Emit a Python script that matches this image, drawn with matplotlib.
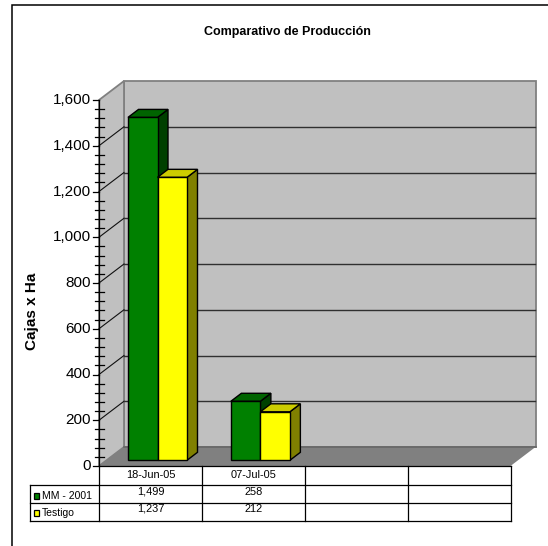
import matplotlib
matplotlib.use("Agg")
import matplotlib.pyplot as plt
from matplotlib.patches import Polygon, Rectangle
from matplotlib.lines import Line2D

plt.rcParams['font.family'] = ['Liberation Sans', 'DejaVu Sans']

title = "Comparativo de Producción"
ylabel = "Cajas x Ha"
categories = ["18-Jun-05", "07-Jul-05", "", ""]
series_names = ["MM - 2001", "Testigo"]
mm_2001 = [1499, 258]
testigo = [1237, 212]
mm_labels = ["1,499", "258", "", ""]
testigo_labels = ["1,237", "212", "", ""]
yticks = list(range(0, 1601, 200))
yminor = [v for v in range(0, 1601, 40) if v % 200]

W, H = 548, 546
fig = plt.figure(figsize=(W/100, H/100), dpi=100, facecolor='white')

L, R, T, B = 99.0, 510.5, 100.0, 466.0
ax = fig.add_axes([L/W, 1-B/H, (R-L)/W, (B-T)/H])
ax.set_xlim(0, 4)
ax.set_ylim(0, 1600)
ax.axis('off')
px = 4/(R-L)
py = 1600/(B-T)
DX, DY = 25*px, 19*py     # chart depth
bdx, bdy = 10.5*px, 8*py  # bar depth
y0 = 5.7*py               # bar inset from front of floor
ins = 29*px
bw = 29.5*px

def poly(pts, fc, ec='none', lw=0.8, z=1):
    ax.add_patch(Polygon(pts, closed=True, fc=fc, ec=ec, lw=lw, zorder=z, clip_on=False, joinstyle='miter'))

# walls and floor
poly([(DX, DY), (4+DX, DY), (4+DX, 1600+DY), (DX, 1600+DY)], '#c0c0c0', '#808080', 1.3, 1)
poly([(0, 0), (DX, DY), (DX, 1600+DY), (0, 1600)], '#c0c0c0', '#808080', 1.3, 1)
poly([(0, 0), (4, 0), (4+DX, DY), (DX, DY)], '#808080', z=1.5)

# gridlines
for v in yticks[1:-1]:
    ax.plot([0, DX], [v, v+DY], color='#101010', lw=0.8, zorder=2, clip_on=False)
    ax.plot([DX, 4+DX-1*px], [v+DY, v+DY], color='#303030', lw=1.0, zorder=2, clip_on=False)
ax.plot([DX, 4+DX], [DY, DY], color='#666666', lw=1.2, zorder=2, clip_on=False)

# axis and ticks
ax.plot([0, 0], [0, 1600], color='black', lw=0.9, zorder=3, clip_on=False)
for v in yticks:
    ax.plot([-6.5*px, 0], [v, v], color='black', lw=0.9, zorder=3, clip_on=False)
    ax.text(-8*px, v, f"{v:,}", ha='right', va='center', fontsize=11, color='black')
for v in yminor:
    ax.plot([-4*px, 5*px], [v, v], color='black', lw=0.9, zorder=3, clip_on=False)

def bar3d(x, v, front, top, side, z):
    x1 = x + bw
    t = v + y0
    poly([(x1, y0), (x1+bdx, y0+bdy), (x1+bdx, t+bdy), (x1, t)], side, 'black', 1.0, z)
    poly([(x, t), (x1, t), (x1+bdx, t+bdy), (x+bdx, t+bdy)], top, 'black', 1.0, z)
    poly([(x, y0), (x1, y0), (x1, t), (x, t)], front, 'black', 1.0, z+0.1)

for i in range(len(mm_2001)):
    bar3d(i + ins, mm_2001[i], '#008000', '#006400', '#004000', 4 + i)
    bar3d(i + ins + bw, testigo[i], '#ffff00', '#cccc00', '#808000', 4.5 + i)

# data table
r0, r1, r2, r3 = 0, -19*py, -36.8*py, -55*py
xl = -69*px
tk = dict(color='black', lw=0.9, clip_on=False, zorder=3)
ax.plot([0, 4], [r0, r0], **tk)
ax.plot([xl, 4], [r1, r1], **tk)
ax.plot([xl, 4], [r2, r2], **tk)
ax.plot([xl, 4], [r3, r3], **tk)
ax.plot([xl, xl], [r1, r3], **tk)
for c in range(5):
    ax.plot([c, c], [r0, r3], **tk)
fs = 7.9
for c in range(4):
    ax.text(c+.5, (r0+r1)/2, categories[c], ha='center', va='center', fontsize=fs)
    ax.text(c+.5, (r1+r2)/2+2*py, mm_labels[c], ha='center', va='center', fontsize=fs)
    ax.text(c+.5, (r2+r3)/2+3*py, testigo_labels[c], ha='center', va='center', fontsize=fs)
for nm, col, a, b, off in ((series_names[0], '#008000', r1, r2, -2), (series_names[1], '#ffff00', r2, r3, -0.7)):
    m = (a+b)/2 + off*py
    ax.add_patch(Rectangle((xl+3.5*px, m-3*py), 5.5*px, 6*py, fc=col, ec='black', lw=0.9, clip_on=False, zorder=4))
    ax.text(xl+12*px, m, nm, ha='left', va='center', fontsize=7.5)

# titles and frame in figure pixels
fig.text(287/W, 1-32/H, title, ha='center', va='center', fontsize=9.0, fontweight='bold')
fig.text(32/W, 1-311/H, ylabel, ha='center', va='center', rotation=90, fontsize=11, fontweight='bold')
fig.add_artist(Line2D([12/W, 12/W, 1], [0, 1-4.5/H, 1-4.5/H], transform=fig.transFigure, color='black', lw=1.1,
                      solid_joinstyle='miter'))

fig.savefig('out.png', dpi=100, facecolor='white')
